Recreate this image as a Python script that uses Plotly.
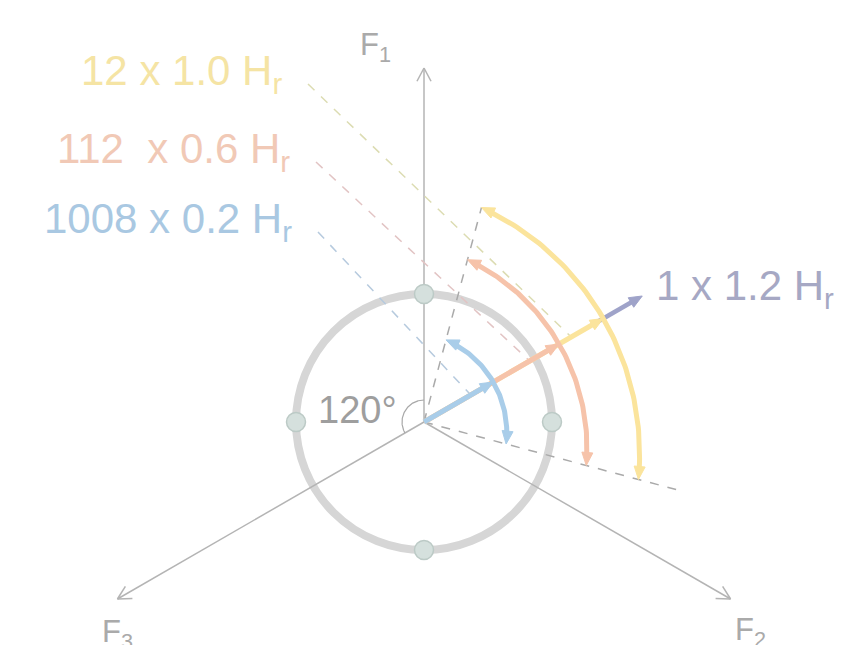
import math
import plotly.graph_objects as go

# ---------------- data ----------------
CENTER = (424, 422)                      # diagram origin (pixels)
axis_labels = ["F<sub>1</sub>", "F<sub>2</sub>", "F<sub>3</sub>"]
axis_angles = [90, -30, 210]             # degrees
axis_length = 354

ring_radius = 128
dot_angles = [90, 0, 180, 270]

vector_angle = 30
series_names = ["12 x 1.0 H<sub>r</sub>", "112  x 0.6 H<sub>r</sub>", "1008 x 0.2 H<sub>r</sub>"]
series_colors = ["#fbe49c", "#f6c3aa", "#a9cde9"]
series_text_colors = ["#f5e4a4", "#f1c9b6", "#a9c8e2"]
series_dash_colors = ["#dcdcb2", "#e2c4c4", "#b6cade"]
vector_lengths = [207, 156, 80]          # where each vector ends
arc_end_radius = [222, 168, 85]          # radius at arc ends
arc_span = [75, -15]                     # arc from / to angle
dash_end_on_vector = [170, 122, 54]
label_right_x = [284, 292, 294]
label_y = [73, 151, 221]

total_name = "1 x 1.2 H<sub>r</sub>"
total_length = 252
total_color = "#9fa3c9"

angle_label = "120°"

# ---------------- helpers ----------------
cx, cy = CENTER


def pt(r, a, origin=CENTER):
    ox, oy = origin
    t = math.radians(a)
    return ox + r * math.cos(t), oy - r * math.sin(t)


fig = go.Figure()


def line(xs, ys, color, width, dash="solid"):
    fig.add_trace(go.Scatter(x=xs, y=ys, mode="lines",
                             line=dict(color=color, width=width, dash=dash),
                             hoverinfo="skip", showlegend=False))


def head(tip, ang, color, length=13, half=5.5):
    t = math.radians(ang)
    ux, uy = math.cos(t), -math.sin(t)
    px, py = -uy, ux
    bx, by = tip[0] - ux * length, tip[1] - uy * length
    xs = [tip[0], bx + px * half, bx - px * half, tip[0]]
    ys = [tip[1], by + py * half, by - py * half, tip[1]]
    fig.add_trace(go.Scatter(x=xs, y=ys, mode="lines", fill="toself",
                             fillcolor=color, line=dict(color=color, width=1),
                             hoverinfo="skip", showlegend=False))


def open_head(tip, ang, color, length=15, spread=28):
    for s in (spread, -spread):
        p = pt(length, ang + 180 + s, origin=tip)
        line([tip[0], p[0]], [tip[1], p[1]], color, 1.5)


# ---------------- ring (smooth circle shape in data coords) ----------------
fig.add_shape(type="circle", xref="x", yref="y",
              x0=cx - ring_radius, x1=cx + ring_radius,
              y0=cy - ring_radius, y1=cy + ring_radius,
              line=dict(color="#d6d6d6", width=8), layer="below")

# ---------------- axes ----------------
for a in axis_angles:
    e = pt(axis_length, a)
    line([cx, e[0]], [cy, e[1]], "#b4b4b4", 1.5)
    open_head(e, a, "#b4b4b4")

arc_a = [90 + i for i in range(121)]
line([pt(22, a)[0] for a in arc_a], [pt(22, a)[1] for a in arc_a], "#a8a8a8", 1.2)

# ---------------- dashed guides ----------------
for a, r in zip(arc_span, [arc_end_radius[0], 265]):
    e = pt(r, a)
    line([cx, e[0]], [cy, e[1]], "#aaaaaa", 1.5, "dash")

for i in range(3):
    s = (label_right_x[i] + 24, label_y[i] + 11)
    e = pt(dash_end_on_vector[i], vector_angle)
    line([s[0], e[0]], [s[1], e[1]], series_dash_colors[i], 1.5, "dash")

# ---------------- vectors ----------------
e0 = pt(total_length, vector_angle)
s0 = pt(vector_lengths[0] - 10, vector_angle)
line([s0[0], e0[0] - 8 * math.cos(math.radians(vector_angle))],
     [s0[1], e0[1] + 8 * math.sin(math.radians(vector_angle))], total_color, 4.5)
head(e0, vector_angle, total_color)

for i in range(3):
    L = vector_lengths[i]
    e = pt(L - 9, vector_angle)
    line([cx, e[0]], [cy, e[1]], series_colors[i], 5)
    head(pt(L, vector_angle), vector_angle, series_colors[i])

# ---------------- arcs ----------------
half_span = (arc_span[0] - arc_span[1]) / 2
cs = math.cos(math.radians(half_span))
for i in range(3):
    rm, re = vector_lengths[i], arc_end_radius[i]
    c = (re ** 2 - rm ** 2) / (2 * (re * cs - rm))
    R = rm - c
    ac = pt(c, vector_angle)
    ps = pt(re, arc_span[0])
    pe = pt(re, arc_span[1])
    th_s = math.degrees(math.atan2(-(ps[1] - ac[1]), ps[0] - ac[0]))
    th_e = math.degrees(math.atan2(-(pe[1] - ac[1]), pe[0] - ac[0]))
    trim = math.degrees(9 / R)
    n = 80
    ths = [th_s - trim + (th_e + 2 * trim - th_s) * k / n for k in range(n + 1)]
    line([pt(R, t, ac)[0] for t in ths], [pt(R, t, ac)[1] for t in ths],
         series_colors[i], 5)
    head(ps, th_s + 90, series_colors[i])
    head(pe, th_e - 90, series_colors[i])

# ---------------- ring dots ----------------
fig.add_trace(go.Scatter(
    x=[pt(ring_radius, a)[0] for a in dot_angles],
    y=[pt(ring_radius, a)[1] for a in dot_angles],
    mode="markers",
    marker=dict(size=19, color="#d5e0dd", line=dict(color="#bccac6", width=1.5)),
    hoverinfo="skip", showlegend=False))

# ---------------- text ----------------
FONT = "Liberation Sans, Arial, sans-serif"
ann = []
for i in range(3):
    ann.append(dict(x=label_right_x[i], y=label_y[i], text=series_names[i],
                    xanchor="right", yanchor="middle", showarrow=False,
                    font=dict(family=FONT, size=42, color=series_text_colors[i])))
ann.append(dict(x=654, y=288, text=total_name, xanchor="left", yanchor="middle",
                showarrow=False, font=dict(family=FONT, size=42, color="#a6a8c4")))
ann.append(dict(x=399, y=410, text=angle_label, xanchor="right", yanchor="middle",
                showarrow=False, font=dict(family=FONT, size=38, color="#9e9e9e")))
label_pos = [(375, 47), (750, 632), (117, 634)]
for lab, (x, y) in zip(axis_labels, label_pos):
    ann.append(dict(x=x, y=y, text=lab, xanchor="center", yanchor="middle",
                    showarrow=False, font=dict(family=FONT, size=31, color="#aaaaaa")))

# page body has an 8px margin; offset the ranges so 1 unit = 1 screen pixel
fig.update_layout(
    width=850, height=645,
    margin=dict(l=0, r=0, t=0, b=0),
    paper_bgcolor="white", plot_bgcolor="white",
    xaxis=dict(range=[8, 858], visible=False, fixedrange=True),
    yaxis=dict(range=[653, 8], visible=False, fixedrange=True),
    annotations=ann,
    showlegend=False,
)
fig.write_html("out.html")
